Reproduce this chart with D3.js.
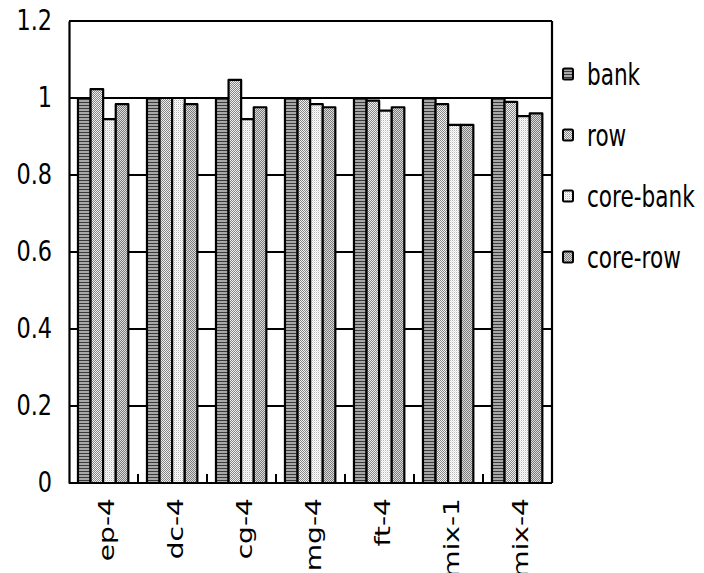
<!DOCTYPE html>
<html>
<head>
<meta charset="utf-8">
<script src="https://cdn.jsdelivr.net/npm/d3@7"></script>
<style>
  html, body { margin: 0; padding: 0; background: #fff; }
  svg { display: block; }
  text { font-family: "DejaVu Sans", sans-serif; fill: #000; }
</style>
</head>
<body>
<svg id="chart" width="704" height="573"></svg>
<script>
// Benchmarks on the x axis
const categories = ["ep-4", "dc-4", "cg-4", "mg-4", "ft-4", "mix-1", "mix-4"];
// Mapping schemes (legend order)
const series = ["bank", "row", "core-bank", "core-row"];
// Normalised values per scheme, one entry per benchmark
const bankValues     = [1.000, 1.000, 1.000, 1.000, 1.000, 1.000, 1.000];
const rowValues      = [1.023, 1.000, 1.047, 0.998, 0.993, 0.984, 0.990];
const coreBankValues = [0.945, 1.000, 0.945, 0.984, 0.967, 0.930, 0.953];
const coreRowValues  = [0.984, 0.984, 0.976, 0.976, 0.976, 0.930, 0.960];
const yTicks = [0, 0.2, 0.4, 0.6, 0.8, 1, 1.2];
const yTickLabels = ["0", "0.2", "0.4", "0.6", "0.8", "1", "1.2"];

const valuesBySeries = {
  "bank": bankValues,
  "row": rowValues,
  "core-bank": coreBankValues,
  "core-row": coreRowValues
};

const svg = d3.select("#chart");
const plot = { left: 69, right: 552, top: 21, bottom: 483 };

const x0 = d3.scaleBand().domain(categories).range([plot.left, plot.right]).padding(0);
const bw = x0.bandwidth();
const x1 = d3.scaleBand().domain(series).range([bw * 0.13, bw * 0.86]).padding(0);
const y = d3.scaleLinear().domain([0, 1.2]).range([plot.bottom, plot.top]);

// Fill patterns for the four schemes
const defs = svg.append("defs");
function pattern(id, w, h, cells) {
  const p = defs.append("pattern").attr("id", id)
    .attr("patternUnits", "userSpaceOnUse").attr("width", w).attr("height", h);
  cells.forEach(c => p.append("rect").attr("x", c[0]).attr("y", c[1])
    .attr("width", c[2]).attr("height", c[3]).attr("fill", c[4]));
}
pattern("pat-bank", 4, 3, [[0, 0, 4, 3, "#a8a8a8"], [0, 0, 4, 1, "#3a3a3a"]]);
pattern("pat-row", 2, 2, [[0, 0, 2, 2, "#f0f0f0"], [0, 0, 1, 1, "#858585"], [1, 1, 1, 1, "#858585"]]);
pattern("pat-core-bank", 2, 2, [[0, 0, 2, 2, "#ffffff"], [0, 0, 1, 1, "#b8b8b8"], [1, 1, 1, 1, "#e4e4e4"]]);
pattern("pat-core-row", 2, 2, [[0, 0, 2, 2, "#dcdcdc"], [0, 0, 1, 1, "#7a7a7a"], [1, 1, 1, 1, "#7a7a7a"]]);
const fillOf = s => `url(#pat-${s})`;

// Horizontal gridlines (including the top frame at 1.2)
svg.append("g").selectAll("line").data(yTicks.filter(t => t > 0)).join("line")
  .attr("x1", plot.left).attr("x2", plot.right)
  .attr("y1", d => y(d)).attr("y2", d => y(d))
  .attr("stroke", "#000").attr("stroke-width", 2.2);

// Right frame edge
svg.append("line")
  .attr("x1", plot.right).attr("x2", plot.right)
  .attr("y1", plot.top).attr("y2", plot.bottom)
  .attr("stroke", "#000").attr("stroke-width", 2.2);

// Bars
const groups = svg.append("g").selectAll("g").data(categories).join("g")
  .attr("transform", d => `translate(${x0(d)},0)`);
groups.selectAll("rect")
  .data((c, i) => series.map(s => ({ s, v: valuesBySeries[s][i] })))
  .join("rect")
  .attr("x", d => x1(d.s))
  .attr("width", x1.bandwidth())
  .attr("y", d => y(d.v))
  .attr("height", d => y(0) - y(d.v))
  .attr("fill", d => fillOf(d.s))
  .attr("stroke", "#000").attr("stroke-width", 2.2)
  .attr("stroke-linejoin", "round");

// Left axis
const yAxis = d3.axisLeft(y).tickValues(yTicks).tickSize(0).tickFormat((d, i) => yTickLabels[i]);
const gy = svg.append("g").attr("transform", `translate(${plot.left},0)`).call(yAxis);
gy.select(".domain").attr("stroke", "#000").attr("stroke-width", 2.2);
gy.selectAll(".tick text")
  .attr("x", 0).attr("dy", null)
  .attr("font-size", 28)
  .attr("dominant-baseline", "central")
  .attr("text-anchor", "end")
  .attr("transform", "translate(-17,-1) scale(0.8,1)");

// Bottom axis with category boundary ticks
const gx = svg.append("g").attr("transform", `translate(0,${plot.bottom})`);
gx.append("line").attr("x1", plot.left).attr("x2", plot.right)
  .attr("y1", 0).attr("y2", 0).attr("stroke", "#000").attr("stroke-width", 2.2);
gx.selectAll("line.bound").data(categories.slice(1)).join("line")
  .attr("class", "bound")
  .attr("x1", d => x0(d)).attr("x2", d => x0(d))
  .attr("y1", 0).attr("y2", -9)
  .attr("stroke", "#000").attr("stroke-width", 2);
gx.selectAll("text").data(categories).join("text")
  .attr("font-size", 29)
  .attr("text-anchor", "end")
  .attr("dominant-baseline", "central")
  .attr("transform", d => `translate(${x0(d) + bw / 2 + 3},${15}) rotate(-90) scale(0.97,0.74)`)
  .text(d => d);

// Legend
const legend = svg.append("g").attr("transform", "translate(563,0)");
const legendY = d3.scalePoint().domain(series).range([74, 257]);
const li = legend.selectAll("g").data(series).join("g")
  .attr("transform", d => `translate(0,${legendY(d)})`);
li.append("rect")
  .attr("x", 0).attr("y", -5.5).attr("width", 10).attr("height", 11)
  .attr("rx", 1.5)
  .attr("fill", d => fillOf(d))
  .attr("stroke", "#000").attr("stroke-width", 2);
li.append("text")
  .attr("font-size", 30)
  .attr("dominant-baseline", "central")
  .attr("transform", "translate(24,1) scale(0.72,1)")
  .text(d => d);
</script>
</body>
</html>
